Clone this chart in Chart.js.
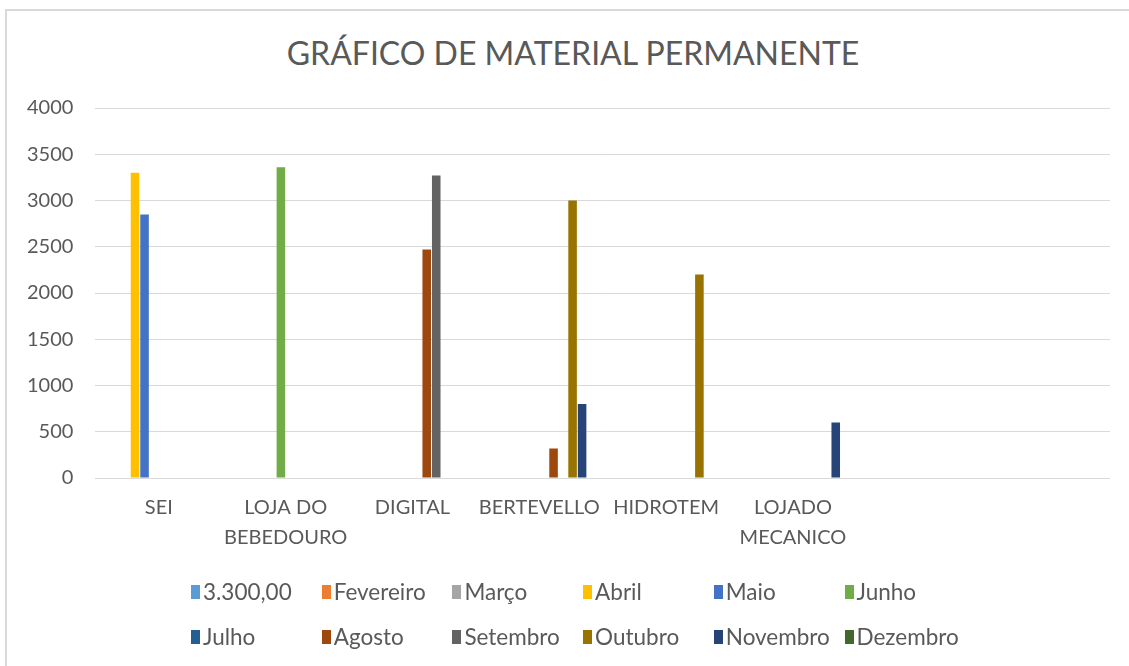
<!DOCTYPE html>
<html>
<head>
<meta charset="utf-8">
<script src="https://cdn.jsdelivr.net/npm/chart.js@4"></script>
<style>
  body { margin: 0; background: #fff; }
  #wrap { position: relative; width: 1129px; height: 666px; overflow: hidden; }
  #frame { position: absolute; left: 5px; top: 9px; width: 1200px; height: 700px;
           border-left: 2px solid #d9d9d9; border-top: 2px solid #d9d9d9; }
  #chartBox { position: absolute; left: 0; top: 0; width: 1129px; height: 666px; }
  #titulo { position: absolute; left: 273px; width: 600px; top: 34px; text-align: center;
            font-family: Lato, "Open Sans", sans-serif; font-size: 32px; line-height: 38px;
            color: #595959; white-space: nowrap; }
  .leg { position: absolute; font-family: Lato, "Open Sans", sans-serif; font-size: 22.5px;
         color: #595959; white-space: nowrap; line-height: 20px; }
  .leg span.box { position: absolute; left: 0; top: 3px; width: 9px; height: 14px; }
  .leg span.txt { position: absolute; left: 12px; top: 0; }
</style>
</head>
<body>
<div id="wrap">
  <div id="frame"></div>
  <div id="titulo">GRÁFICO DE MATERIAL PERMANENTE</div>
  <div id="chartBox"><canvas id="myChart"></canvas></div>
  <div id="legend"></div>
</div>
<script>
const categorias = ["SEI", ["LOJA DO", "BEBEDOURO"], "DIGITAL", "BERTEVELLO", "HIDROTEM", ["LOJADO", "MECANICO"], "", ""];

const meses = ["3.300,00", "Fevereiro", "Março", "Abril", "Maio", "Junho",
               "Julho", "Agosto", "Setembro", "Outubro", "Novembro", "Dezembro"];

const cores = ["#5B9BD5", "#ED7D31", "#A5A5A5", "#FFC000", "#4472C4", "#70AD47",
               "#255E91", "#9E480E", "#636363", "#997300", "#264478", "#43682B"];

// valores por mes, um por categoria
const v3300     = [null, null, null, null, null, null, null, null];
const fevereiro = [null, null, null, null, null, null, null, null];
const marco     = [null, null, null, null, null, null, null, null];
const abril     = [3300, null, null, null, null, null, null, null];
const maio      = [2850, null, null, null, null, null, null, null];
const junho     = [null, 3360, null, null, null, null, null, null];
const julho     = [null, null, null, null, null, null, null, null];
const agosto    = [null, null, 2470, 320, null, null, null, null];
const setembro  = [null, null, 3270, null, null, null, null, null];
const outubro   = [null, null, null, 3000, 2200, null, null, null];
const novembro  = [null, null, null, 800, null, 600, null, null];
const dezembro  = [null, null, null, null, null, null, null, null];

const valores = [v3300, fevereiro, marco, abril, maio, junho,
                 julho, agosto, setembro, outubro, novembro, dezembro];

const yTicks = [0, 500, 1000, 1500, 2000, 2500, 3000, 3500, 4000];

const fonte = "Lato, 'Open Sans', sans-serif";
const cinza = "#595959";

const datasets = meses.map((m, i) => ({
  label: m,
  data: valores[i],
  backgroundColor: cores[i],
  borderWidth: 0,
  categoryPercentage: 0.9,
  barPercentage: 0.9
}));

const ctx = document.getElementById("myChart").getContext("2d");
new Chart(ctx, {
  type: "bar",
  data: { labels: categorias, datasets: datasets },
  options: {
    responsive: true,
    maintainAspectRatio: false,
    animation: false,
    layout: { padding: { left: 5, right: 19, top: 108, bottom: 106 } },
    plugins: {
      legend: { display: false },
      tooltip: { enabled: false },
      title: { display: false }
    },
    scales: {
      x: {
        grid: { display: false },
        border: { display: false },
        ticks: {
          color: cinza,
          font: { family: fonte, size: 20, lineHeight: 1.5 },
          padding: 7,
          maxRotation: 0,
          autoSkip: false
        }
      },
      y: {
        min: 0,
        max: 4000,
        afterBuildTicks: (axis) => { axis.ticks = yTicks.map(v => ({ value: v })); },
        grid: { color: "#d9d9d9", lineWidth: 1, drawTicks: false },
        border: { display: false },
        ticks: {
          color: cinza,
          font: { family: fonte, size: 20 },
          padding: 22,
          callback: (v) => String(v)
        }
      }
    }
  }
});

// legenda em grade de 6 colunas
const leg = document.getElementById("legend");
meses.forEach((m, i) => {
  const col = i % 6, row = Math.floor(i / 6);
  const d = document.createElement("div");
  d.className = "leg";
  d.style.left = (191 + col * 130.7) + "px";
  d.style.top = (582 + row * 45) + "px";
  d.innerHTML = '<span class="box" style="background:' + cores[i] + '"></span><span class="txt">' + m + '</span>';
  leg.appendChild(d);
});
</script>
</body>
</html>
